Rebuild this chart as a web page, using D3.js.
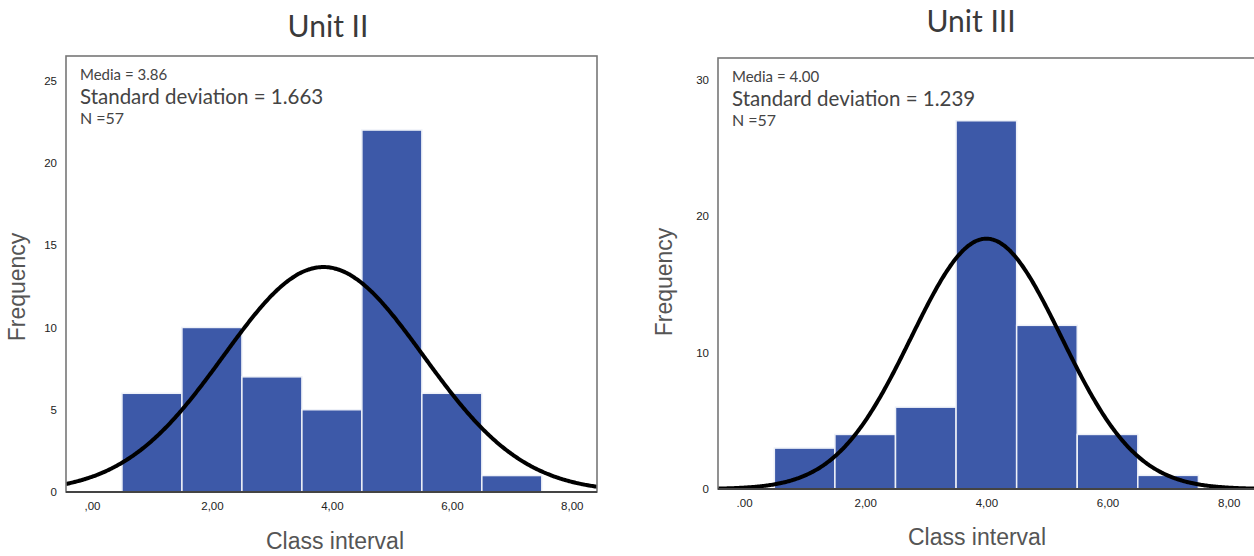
<!DOCTYPE html>
<html>
<head>
<meta charset="utf-8">
<script src="https://cdn.jsdelivr.net/npm/d3@7"></script>
<style>
  body { margin: 0; background: #fff; }
  svg { display: block; }
  .tick text { font-family: "Liberation Sans", Arial, sans-serif; font-size: 11.5px; fill: #222; }
</style>
</head>
<body>
<div class="charts"></div>
<script>
// Class intervals (bin centres) shared by both histograms
var binCentres = [1, 2, 3, 4, 5, 6, 7];
var binWidth = 1;

// Unit II
var unit2Counts = [6, 10, 7, 5, 22, 6, 1];
var unit2Stats = { mean: 3.86, sd: 1.663, n: 57 };
var unit2Labels = ["Media = 3.86", "Standard deviation = 1.663", "N =57"];
var unit2YTicks = [0, 5, 10, 15, 20, 25];

// Unit III
var unit3Counts = [3, 4, 6, 27, 12, 4, 1];
var unit3Stats = { mean: 4.00, sd: 1.239, n: 57 };
var unit3Labels = ["Media = 4.00", "Standard deviation = 1.239", "N =57"];
var unit3YTicks = [0, 10, 20, 30];

var xTicks = [0, 2, 4, 6, 8];
var xTickLabels = [",00", "2,00", "4,00", "6,00", "8,00"];
var unit3XTickLabels = [".00", "2,00", "4,00", "6,00", "8,00"];

(function(win, htmldoc){

    var W = 1254, H = 556;
    var barColor = "#3d59a8";

    var svg = d3.select(".charts").append("svg")
                .attr("width", W)
                .attr("height", H);

    function drawPanel(cfg) {
        var x = d3.scaleLinear().domain(cfg.xDomain).range([cfg.left, cfg.right]);
        var y = d3.scaleLinear().domain(cfg.yDomain).range([cfg.bottom, cfg.top]);

        var g = svg.append("g");

        g.append("clipPath").attr("id", cfg.id + "-clip")
            .append("rect")
            .attr("x", cfg.left).attr("y", cfg.top)
            .attr("width", cfg.right - cfg.left)
            .attr("height", cfg.bottom - cfg.top);

        // title
        g.append("text")
            .attr("x", cfg.titleX).attr("y", cfg.titleY)
            .attr("text-anchor", "middle")
            .style("font-family", "Lato, 'Open Sans', sans-serif")
            .style("font-size", "30px")
            .style("fill", "#3a3a3a")
            .text(cfg.title);

        // bars
        var data = binCentres.map(function(c, i) { return { c: c, v: cfg.counts[i] }; });
        g.append("g").attr("clip-path", "url(#" + cfg.id + "-clip)")
            .selectAll("rect")
            .data(data)
            .enter()
            .append("rect")
            .attr("x", function(d) { return x(d.c - binWidth / 2); })
            .attr("width", function(d) { return x(d.c + binWidth / 2) - x(d.c - binWidth / 2); })
            .attr("y", function(d) { return y(d.v); })
            .attr("height", function(d) { return y(0) - y(d.v); })
            .attr("fill", barColor)
            .attr("stroke", "#eef1f8")
            .attr("stroke-width", 1.5);

        // normal curve
        var s = cfg.stats;
        var k = s.n * binWidth / (s.sd * Math.sqrt(2 * Math.PI));
        var pts = d3.range(cfg.xDomain[0], cfg.xDomain[1] + 0.02, 0.02).map(function(v) {
            var z = (v - s.mean) / s.sd;
            return [v, k * Math.exp(-0.5 * z * z)];
        });
        g.append("path")
            .attr("clip-path", "url(#" + cfg.id + "-clip)")
            .datum(pts)
            .attr("fill", "none")
            .attr("stroke", "#000")
            .attr("stroke-width", 4)
            .attr("d", d3.line()
                .x(function(d) { return x(d[0]); })
                .y(function(d) { return y(d[1]); })
                .curve(d3.curveBasis));

        // frame
        g.append("rect")
            .attr("x", cfg.left).attr("y", cfg.top)
            .attr("width", cfg.right - cfg.left)
            .attr("height", cfg.bottom - cfg.top)
            .attr("fill", "none")
            .attr("stroke", "#777")
            .attr("stroke-width", 1.6);
        g.append("line")
            .attr("x1", cfg.left).attr("x2", cfg.right)
            .attr("y1", cfg.bottom).attr("y2", cfg.bottom)
            .attr("stroke", "#444")
            .attr("stroke-width", 2);

        // axes
        var yAxis = d3.axisLeft(y).tickValues(cfg.yTicks).tickSize(0).tickPadding(9);
        var ya = g.append("g").attr("transform", "translate(" + cfg.left + ",0)").call(yAxis);
        ya.select(".domain").remove();

        var xAxis = d3.axisBottom(x).tickValues(xTicks).tickSize(0).tickPadding(10)
                      .tickFormat(function(d, i) { return cfg.xLabels[i]; });
        var xa = g.append("g").attr("transform", "translate(0," + cfg.bottom + ")").call(xAxis);
        xa.select(".domain").remove();

        // stats box
        var lines = g.append("g").style("font-family", "Lato, 'Open Sans', sans-serif").style("fill", "#444");
        lines.append("text").attr("x", cfg.left + 14).attr("y", cfg.top + 24)
            .style("font-size", "15px").text(cfg.labels[0]);
        lines.append("text").attr("x", cfg.left + 14).attr("y", cfg.top + 48)
            .style("font-size", "20.5px").text(cfg.labels[1]);
        lines.append("text").attr("x", cfg.left + 14).attr("y", cfg.top + 68)
            .style("font-size", "16px").text(cfg.labels[2]);

        // axis titles
        g.append("text")
            .attr("transform", "translate(" + cfg.yTitleX + "," + cfg.yTitleY + ") rotate(-90)")
            .attr("text-anchor", "middle")
            .style("font-family", "'Liberation Sans', Arial, sans-serif")
            .style("font-size", "23px")
            .style("fill", "#555")
            .text("Frequency");
        g.append("text")
            .attr("x", cfg.xTitleX).attr("y", cfg.xTitleY)
            .attr("text-anchor", "middle")
            .style("font-family", "'Liberation Sans', Arial, sans-serif")
            .style("font-size", "23px")
            .style("fill", "#555")
            .text("Class interval");
    }

    drawPanel({
        id: "u2", title: "Unit II", titleX: 328, titleY: 37,
        left: 66, right: 597, top: 56, bottom: 492,
        xDomain: [-0.433, 8.42], yDomain: [0, 26.5],
        counts: unit2Counts, stats: unit2Stats, labels: unit2Labels,
        yTicks: unit2YTicks, xLabels: xTickLabels,
        yTitleX: 25, yTitleY: 287, xTitleX: 335, xTitleY: 549
    });

    drawPanel({
        id: "u3", title: "Unit III", titleX: 971, titleY: 32,
        left: 718, right: 1262, top: 58, bottom: 489,
        xDomain: [-0.43, 8.55], yDomain: [0, 31.6],
        counts: unit3Counts, stats: unit3Stats, labels: unit3Labels,
        yTicks: unit3YTicks, xLabels: unit3XTickLabels,
        yTitleX: 672, yTitleY: 282, xTitleX: 977, xTitleY: 545
    });

})(window, document);
</script>
</body>
</html>
